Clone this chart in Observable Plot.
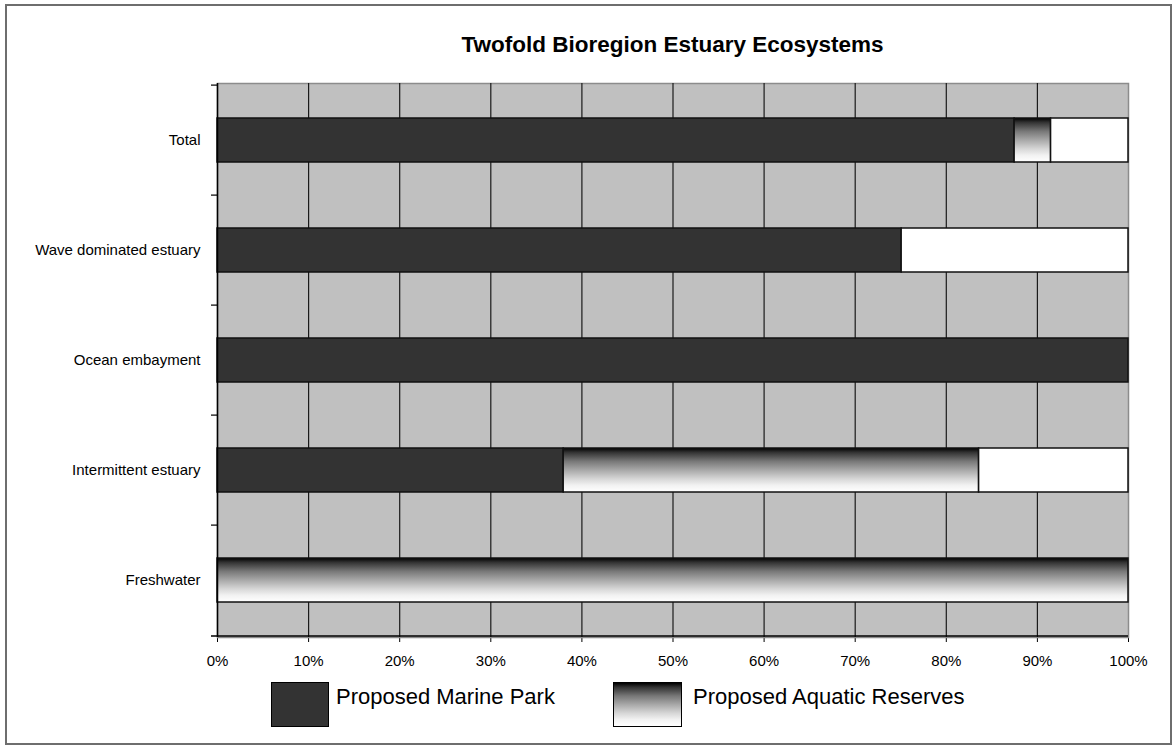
<!DOCTYPE html>
<html>
<head>
<meta charset="utf-8">
<script src="https://cdn.jsdelivr.net/npm/d3@7"></script>
<script src="https://cdn.jsdelivr.net/npm/@observablehq/plot@0.6"></script>
<style>
  html, body { margin: 0; padding: 0; background: #fff; }
  #wrap { position: relative; width: 1176px; height: 748px; overflow: hidden; font-family: Arial, "Liberation Sans", sans-serif; }
  #border { position: absolute; left: 5px; top: 4px; width: 1163px; height: 737px; border: 2px solid #6e6e6e; }
  #title { position: absolute; left: 217px; width: 911px; top: 32px; text-align: center; font-weight: bold; font-size: 22.5px; color: #000; white-space: nowrap; }
  #chart { position: absolute; left: 0; top: 0; }
  .lg-box { position: absolute; box-sizing: border-box; border: 1.5px solid #000; }
  .lg-text { position: absolute; font-size: 22px; color: #000; white-space: nowrap; }
</style>
</head>
<body>
<div id="wrap">
  <div id="border"></div>
  <div id="chart"></div>
  <div id="title">Twofold Bioregion Estuary Ecosystems</div>
  <div id="legend"></div>
</div>
<script>
// ---- data ----
const categories = ["Total", "Wave dominated estuary", "Ocean embayment", "Intermittent estuary", "Freshwater"];
const series = ["Proposed Marine Park", "Proposed Aquatic Reserves", "Other"];
const marinePark = [87.5, 75.1, 100, 38.0, 0];
const aquaticReserves = [4.0, 0, 0, 45.6, 100];
const other = [8.5, 24.9, 0, 16.4, 0];
const xTicks = [0, 10, 20, 30, 40, 50, 60, 70, 80, 90, 100];
const xTickLabels = ["0%", "10%", "20%", "30%", "40%", "50%", "60%", "70%", "80%", "90%", "100%"];
const legendSeries = ["Proposed Marine Park", "Proposed Aquatic Reserves"];

// ---- table ----
const seriesValues = [marinePark, aquaticReserves, other];
const rows = [];
categories.forEach((c, i) => {
  series.forEach((s, j) => rows.push({category: c, series: s, value: seriesValues[j][i]}));
});

const W = 1176, H = 680;
const mTop = 83, mBottom = 43, mLeft = 217, mRight = 48;
const padInner = 0.6, padOuter = 0.3;
const step = (H - mTop - mBottom) / (categories.length - padInner + 2 * padOuter);
const half = step / 2;
const tickLen = 6 * 100 / (W - mLeft - mRight); // 6px expressed in x units

const plot = Plot.plot({
  width: W,
  height: H,
  marginTop: mTop,
  marginBottom: mBottom,
  marginLeft: mLeft,
  marginRight: mRight,
  style: {fontFamily: "Arial, 'Liberation Sans', sans-serif", fontSize: "15px", color: "#000", background: "transparent"},
  x: {domain: [0, 100], ticks: xTicks, tickFormat: (d) => xTickLabels[xTicks.indexOf(d)], tickSize: 5, tickPadding: 13, label: null},
  y: {domain: categories, paddingInner: padInner, paddingOuter: padOuter, tickSize: 0, tickPadding: 17, label: null},
  color: {domain: series, range: ["#333333", "url(#reserveGrad)", "#ffffff"]},
  marks: [
    Plot.frame({fill: "#c0c0c0", stroke: "#8c8c8c", strokeWidth: 1.5}),
    Plot.ruleX(xTicks.filter(d => d > 0 && d < 100), {stroke: "#1a1a1a", strokeWidth: 1.2}),
    Plot.barX(rows.filter(d => d.value > 0), {
      y: "category", x: "value", fill: "series", order: series,
      stroke: "#111", strokeWidth: 1.5
    }),
    Plot.ruleX([0], {stroke: "#000", strokeWidth: 1.5}),
    // boundary ticks on the category axis
    Plot.ruleY(categories, {y: d => d, x1: -tickLen, x2: 0, dy: -half, stroke: "#000", strokeWidth: 1.2}),
    // bottom axis line (with its left tick)
    Plot.ruleY(categories.slice(-1), {y: d => d, x1: -tickLen, x2: 100, dy: half, stroke: "#000", strokeWidth: 1.5})
  ]
});

// gradient definition for the Aquatic Reserves fill
const svgNS = "http://www.w3.org/2000/svg";
const defs = document.createElementNS(svgNS, "defs");
const grad = document.createElementNS(svgNS, "linearGradient");
grad.setAttribute("id", "reserveGrad");
grad.setAttribute("x1", "0"); grad.setAttribute("y1", "0");
grad.setAttribute("x2", "0"); grad.setAttribute("y2", "1");
const stops = [[0, "#000000"], [0.1, "#333333"], [0.3, "#777777"], [0.5, "#a8a8a8"], [0.7, "#d6d6d6"], [0.85, "#f2f2f2"], [1, "#ffffff"]];
stops.forEach(([o, c]) => {
  const s = document.createElementNS(svgNS, "stop");
  s.setAttribute("offset", o);
  s.setAttribute("stop-color", c);
  grad.appendChild(s);
});
defs.appendChild(grad);
plot.insertBefore(defs, plot.firstChild);
document.getElementById("chart").appendChild(plot);

// ---- legend (HTML) ----
const cssGrad = "linear-gradient(to bottom, " + stops.map(([o, c]) => `${c} ${o * 100}%`).join(", ") + ")";
const legendLayout = [
  {box: [271, 682, 58, 45], text: [336, 684]},
  {box: [613, 682, 69, 45], text: [693, 684]}
];
const legendFills = ["#333333", cssGrad];
const legend = document.getElementById("legend");
legendSeries.forEach((name, i) => {
  const L = legendLayout[i];
  const b = document.createElement("div");
  b.className = "lg-box";
  Object.assign(b.style, {left: L.box[0] + "px", top: L.box[1] + "px", width: L.box[2] + "px", height: L.box[3] + "px", background: legendFills[i]});
  legend.appendChild(b);
  const t = document.createElement("div");
  t.className = "lg-text";
  t.textContent = name;
  Object.assign(t.style, {left: L.text[0] + "px", top: L.text[1] + "px"});
  legend.appendChild(t);
});
</script>
</body>
</html>
